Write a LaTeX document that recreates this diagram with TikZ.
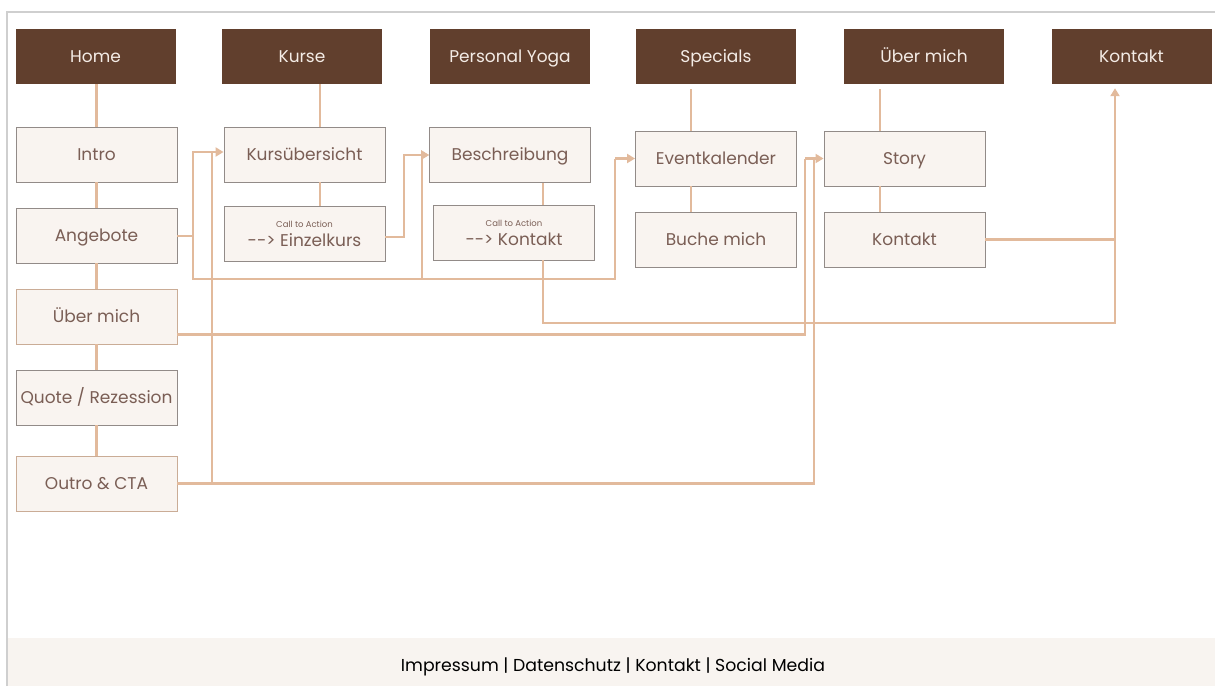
\documentclass[tikz,border=0pt]{standalone}
\usepackage{fontspec}
\setmainfont{Poppins}
\usetikzlibrary{arrows.meta,calc}
\definecolor{hdrbrown}{HTML}{613F2D}
\definecolor{hdrtext}{HTML}{F4ECE6}
\definecolor{boxfill}{HTML}{F9F4F0}
\definecolor{boxline}{HTML}{928B88}
\definecolor{boxtext}{HTML}{7A5E55}
\definecolor{conn}{HTML}{E2BA9C}
\definecolor{framec}{HTML}{CFCFCF}
\definecolor{footfill}{HTML}{F8F4F0}
\tikzset{
  hdr/.style={fill=hdrbrown, draw=none, minimum width=160pt, minimum height=55pt,
    inner sep=0pt, text height=12.5pt, text depth=1pt, text=hdrtext, font=\fontsize{17}{19}\selectfont},
  pagebox/.style={fill=boxfill, draw=boxline, line width=0.9pt, minimum width=161pt,
    minimum height=55pt, inner sep=0pt, text=boxtext, font=\fontsize{17}{19}\selectfont},
  plainbox/.style={pagebox, text height=12.5pt, text depth=1pt},
  ctabox/.style={pagebox, align=center},
  link/.style={draw=conn, line width=2.2pt},
  arrowlink/.style={link, -{Triangle[length=8pt,width=9pt]}},
}
\begin{document}
\begin{tikzpicture}[x=1pt,y=-1pt]
\useasboundingbox (0,0) rectangle (1215,686);
% frame and footer
\fill[footfill] (8,638) rectangle (1215,686);
\draw[framec, line width=1.2pt] (7,686) -- (7,12) -- (1215,12);
\node[font=\fontsize{17.3}{19}\selectfont, text=black, text height=12.5pt, text depth=1pt, inner sep=0pt] (footer) at (613,666) {Impressum | Datenschutz | Kontakt | Social Media};

% headers
\node[hdr] (home) at (95.5,56.5) {Home};
\node[hdr] (kurse) at (302,56.5) {Kurse};
\node[hdr] (pyoga) at (510,56.5) {Personal Yoga};
\node[hdr] (specials) at (716,56.5) {Specials};
\node[hdr] (uebermichH) at (924,56.5) {Über mich};
\node[hdr] (kontaktH) at (1131.5,56.5) {Kontakt};

% column 1
\node[plainbox] (intro) at (96.5,154.5) {Intro};
\node[plainbox] (angebote) at (96.5,235.5) {Angebote};
\node[plainbox, draw=conn!70!boxline] (uebermich) at (96.5,316.5) {Über mich};
\node[plainbox] (quote) at (96.5,397.5) {Quote / Rezession};
\node[plainbox, draw=conn!70!boxline] (outro) at (96.5,483.5) {Outro \& CTA};

% column 2
\node[plainbox] (kursu) at (304.5,154.5) {Kursübersicht};
\node[ctabox] (einzel) at (304.5,233.5) {{\fontsize{8.5}{9}\selectfont Call to Action}\\[0pt] -\kern0pt-\kern0pt> Einzelkurs};

% column 3
\node[plainbox] (beschr) at (510,155) {Beschreibung};
\node[ctabox] (ctak) at (514,232.5) {{\fontsize{8.5}{9}\selectfont Call to Action}\\[0pt] -\kern0pt-\kern0pt> Kontakt};

% column 4
\node[plainbox] (event) at (716,158.5) {Eventkalender};
\node[plainbox] (buche) at (716,239.5) {Buche mich};

% column 5
\node[plainbox] (story) at (904.5,158.5) {Story};
\node[plainbox] (kontakt) at (904.5,239.5) {Kontakt};

% vertical tree links
\draw[link] (intro.north |- home.south) -- (intro.north);
\draw[link] (intro.south) -- (angebote.north);
\draw[link] (angebote.south) -- (uebermich.north);
\draw[link] (uebermich.south) -- (quote.north);
\draw[link] (quote.south) -- (outro.north);

\coordinate (kx) at ($(kursu.north)+(15.5,0)$);
\draw[link] (kx |- kurse.south) -- (kx);
\draw[link] ($(kursu.south)+(15.5,0)$) -- ($(einzel.north)+(15.5,0)$);
\draw[link] ($(beschr.south)+(33,0)$) -- ($(ctak.north)+(29,0)$);
\draw[link] ($(specials.south)+(-25,5)$) -- ($(event.north)+(-25,0)$);
\draw[link] ($(event.south)+(-25,0)$) -- ($(buche.north)+(-25,0)$);
\draw[link] ($(uebermichH.south)+(-44,5)$) -- ($(story.north)+(-24.5,0)$);
\draw[link] ($(story.south)+(-24.5,0)$) -- ($(kontakt.north)+(-24.5,0)$);

% cross links
\coordinate (ka) at ($(kursu.west)+(0,-2.5)$);
\coordinate (ba) at (beschr.west);
\coordinate (ea) at (event.west);
\coordinate (sa) at (story.west);
\coordinate (v193) at (193,0);
\coordinate (v212) at (212,0);
\coordinate (v404) at (404,0);
\coordinate (v422) at (422,0);
\coordinate (v615) at (615,0);
\coordinate (v805) at (805,0);
\coordinate (v814) at (814,0);
\coordinate (v543) at (543,0);
\coordinate (v1115) at (1115,0);

\draw[arrowlink] ($(angebote.east)+(0,0.5)$) -- (193,236) -- (v193 |- ka) -- (ka);
\draw[link] (193,236) -- (193,279) -- (615,279) -- (v615 |- ea);
\draw[arrowlink] (v615 |- ea) -- (ea);
\draw[arrowlink] (422,279) -- (v422 |- ba) -- (ba);
\draw[arrowlink] ($(einzel.east)+(0,3.5)$) -- (404,237) -- (v404 |- ba) -- (ba);

\draw[link] ($(uebermich.east)+(0,18)$) -- (805,334.5) -- (v805 |- sa);
\draw[arrowlink] (v805 |- sa) -- (sa);
\draw[link] (outro.east) -- (814,483.5) -- (v814 |- sa);
\draw[link] (212,483.5) -- (v212 |- ka);

\draw[arrowlink] (v543 |- ctak.south) -- (543,323) -- (1115,323) -- ($(v1115 |- kontaktH.south)+(0,4)$);
\draw[link] (kontakt.east) -- (1115,239.5);
\end{tikzpicture}
\end{document}
